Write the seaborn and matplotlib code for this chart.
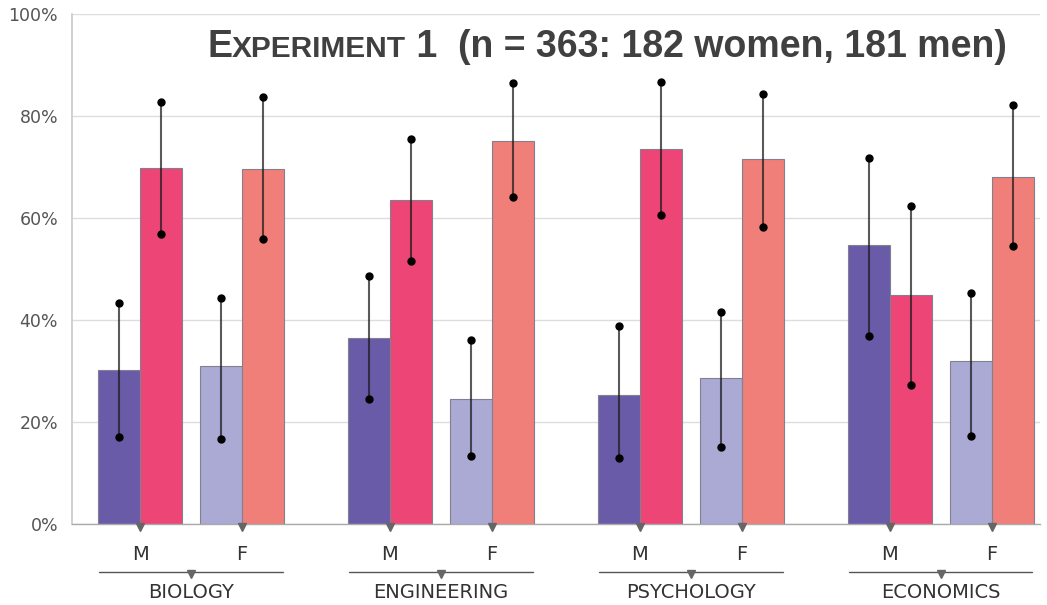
import matplotlib
matplotlib.use("Agg")
import matplotlib.pyplot as plt
import matplotlib.transforms as mtransforms
import numpy as np
import pandas as pd
import seaborn as sns

# ---------------- data ----------------
disciplines = ["BIOLOGY", "ENGINEERING", "PSYCHOLOGY", "ECONOMICS"]
sexes = ["M", "F"]
series = ["A", "B"]

# series A (purple tones) and series B (pink tones), in percent
value_a_m = [30.2, 36.5, 25.3, 54.7]
value_b_m = [69.8, 63.5, 73.5, 44.9]
value_a_f = [31.0, 24.5, 28.6, 32.0]
value_b_f = [69.6, 75.1, 71.6, 68.0]

low_a_m = [17.1, 24.5, 12.9, 36.9]
high_a_m = [43.3, 48.6, 38.8, 71.8]
low_b_m = [56.9, 51.6, 60.6, 27.3]
high_b_m = [82.7, 75.5, 86.7, 62.4]
low_a_f = [16.7, 13.3, 15.1, 17.3]
high_a_f = [44.3, 36.1, 41.6, 45.3]
low_b_f = [55.9, 64.1, 58.2, 54.5]
high_b_f = [83.7, 86.5, 84.3, 82.2]

y_ticks = [0, 20, 40, 60, 80, 100]
y_tick_labels = [f"{v}%" for v in y_ticks]
title_parts = ["E", "XPERIMENT", " 1  (n = 363: 182 women, 181 men)"]

# ---------------- layout constants ----------------
group_step = 2.45      # distance between disciplines (in units of M-F spacing)
pair_width = 0.8235    # width of a pair of bars
palettes = {"M": ["#6A5BA9", "#EE4577"], "F": ["#ABAAD5", "#F17F79"]}

# ---------------- build table ----------------
vals = {("M", "A"): (value_a_m, low_a_m, high_a_m),
        ("M", "B"): (value_b_m, low_b_m, high_b_m),
        ("F", "A"): (value_a_f, low_a_f, high_a_f),
        ("F", "B"): (value_b_f, low_b_f, high_b_f)}
rows = []
for di, d in enumerate(disciplines):
    for si, s in enumerate(sexes):
        for ser in series:
            v, lo, hi = vals[(s, ser)]
            rows.append(dict(discipline=d, sex=s, series=ser,
                             pos=di * group_step + si,
                             value=v[di], lo=lo[di], hi=hi[di]))
df = pd.DataFrame(rows)

# ---------------- figure ----------------
sns.set_theme(style="white")
plt.rcParams["font.family"] = ["DejaVu Sans"]
fig = plt.figure(figsize=(10.47, 6.05), dpi=100)
ax = fig.add_axes([72 / 1047, 1 - 524 / 605, (1040 - 72) / 1047, 510 / 605])

for s in sexes:
    sub = df[df["sex"] == s].sort_values("pos")
    n_before = len(ax.containers)
    sns.barplot(data=sub, x="pos", y="value", hue="series", hue_order=series,
                palette=palettes[s], native_scale=True, dodge=True,
                width=pair_width / group_step, errorbar=None, saturation=1,
                edgecolor="#80808f", linewidth=0.8, legend=False, ax=ax,
                zorder=2)
    for cont, ser in zip(ax.containers[n_before:], series):
        d = sub[sub["series"] == ser].sort_values("pos")
        for bar, (_, r) in zip(cont, d.iterrows()):
            xc = bar.get_x() + bar.get_width() / 2
            ax.plot([xc, xc], [r["lo"], r["hi"]], color="#1a1a1a", alpha=0.72,
                    lw=1.5, zorder=4, solid_capstyle="butt")
            ax.plot([xc, xc], [r["lo"], r["hi"]], ls="none", marker="o",
                    ms=5, color="black", zorder=5)

# axes styling
ax.set_ylim(0, 100)
ax.set_xlim(-0.667, 8.824)
ax.set_yticks(y_ticks)
ax.set_yticklabels(y_tick_labels, fontsize=12.5, color="#555555")
ax.yaxis.grid(True, color="#dddddd", lw=1)
ax.xaxis.grid(False)
ax.set_axisbelow(True)
ax.tick_params(axis="y", length=0, pad=10)
for sp in ["top", "right"]:
    ax.spines[sp].set_visible(False)
ax.spines["left"].set_color("#cccccc")
ax.spines["bottom"].set_color("#aaaaaa")
ax.spines["bottom"].set_linewidth(1)
ax.set_xlabel("")
ax.set_ylabel("")

pair_pos = sorted(df["pos"].unique())
pair_lab = [df[df["pos"] == p]["sex"].iloc[0] for p in pair_pos]
ax.set_xticks(pair_pos)
ax.set_xticklabels(pair_lab, fontsize=14, color="#333333")
ax.tick_params(axis="x", which="major", length=0, pad=15)

# boundary ticks between disciplines
bounds = [i * group_step + (1 + group_step) / 2 for i in range(len(disciplines) - 1)]
ax.set_xticks(bounds, minor=True)
ax.tick_params(axis="x", which="minor", length=6, direction="inout", color="#bbbbbb", width=1)

# small triangles under each pair
tri_tr = mtransforms.offset_copy(ax.transData, fig=fig, x=0, y=-3, units="dots")
ax.plot(pair_pos, [0] * len(pair_pos), ls="none", marker="v", ms=6,
        color="#666666", transform=tri_tr, clip_on=False, zorder=6)

# discipline brackets and labels
blend = mtransforms.blended_transform_factory(ax.transData, ax.transAxes)
for di, d in enumerate(disciplines):
    c = di * group_step + 0.5
    ax.plot([c - 0.9, c + 0.9], [-0.094, -0.094], color="#555555", lw=1,
            transform=blend, clip_on=False)
    tri2 = mtransforms.offset_copy(blend, fig=fig, x=0, y=-2, units="dots")
    ax.plot([c], [-0.094], marker="v", ms=6, color="#666666", ls="none",
            transform=tri2, clip_on=False)
    ax.text(c, -0.134, d, transform=blend, ha="center", va="center",
            fontsize=14, color="#333333")

# title with small caps effect
fig.canvas.draw()
renderer = fig.canvas.get_renderer()
x = 207 / 1047
yb = 1 - 57 / 605
fam = ["Liberation Sans", "DejaVu Sans"]
sizes = [27, 21.5, 27]
for part, sz in zip(title_parts, sizes):
    t = fig.text(x, yb, part, fontsize=sz, fontweight="bold", color="#404040",
                 family=fam, va="baseline", ha="left")
    bb = t.get_window_extent(renderer)
    x = bb.x1 / fig.bbox.width

fig.savefig("out.png", dpi=100)
